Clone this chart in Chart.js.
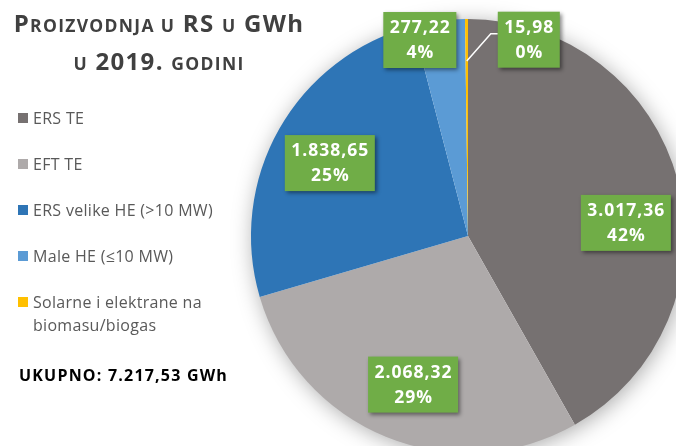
<!DOCTYPE html>
<html>
<head>
<meta charset="utf-8">
<script src="https://cdn.jsdelivr.net/npm/chart.js@4.4.1/dist/chart.umd.min.js"></script>
<style>
  html, body { margin: 0; padding: 0; background: #fff; }
  body { width: 676px; height: 446px; overflow: hidden; position: relative; font-family: 'Open Sans', sans-serif; }
  #title {
    position: absolute; left: 0; top: 5px; width: 318px; text-align: center;
    font-weight: bold; font-size: 24px; line-height: 35px; color: #404040;
    letter-spacing: 1.3px; z-index: 2; white-space: nowrap;
  }
  #title .sc { font-size: 17.5px; }
  #legend { position: absolute; left: 18px; top: 107px; z-index: 2; }
  .item { position: relative; padding-left: 15px; font-size: 16px; letter-spacing: 0.3px; line-height: 23px; color: #595959; margin-bottom: 23px; }
  .item .sw { position: absolute; left: 0; top: 6px; width: 10px; height: 10px; }
  #total { position: absolute; left: 19px; top: 364px; font-size: 16px; letter-spacing: 1.2px; font-weight: bold; color: #000; line-height: 23px; z-index: 2; }
  #wrap { position: absolute; left: 0; top: 0; width: 700px; height: 470px; z-index: 1; }
</style>
</head>
<body>
<div id="title">P<span class="sc">ROIZVODNJA U</span> RS <span class="sc">U</span> GWh<br><span class="sc">U</span> 2019. <span class="sc">GODINI</span></div>
<div id="legend"></div>
<div id="total"></div>
<div id="wrap"><canvas id="chart"></canvas></div>
<script>
// production in RS for 2019, GWh
const categories = ['ERS TE', 'EFT TE', 'ERS velike HE (>10 MW)', 'Male HE (≤10 MW)', 'Solarne i elektrane na biomasu/biogas'];
const legendText = ['ERS TE', 'EFT TE', 'ERS velike HE (>10 MW)', 'Male HE (≤10 MW)', 'Solarne i elektrane na<br>biomasu/biogas'];
const production = [3017.36, 2068.32, 1838.65, 277.22, 15.98];
const sliceColors = ['#767171', '#AEAAAA', '#2E75B6', '#5B9BD5', '#FFC000'];

// where each green label sits: rotation from slice middle (deg) and radius fraction
const labelShift = [10, -1.8, -1.7, -6.1, 17.6];
const labelRadius = [0.73, 0.73, 0.72, 0.93, 0.947];
const labelLeader = [false, false, false, false, true];

const total = production.reduce((a, b) => a + b, 0);

function fmt(v) {
  const parts = v.toFixed(2).split('.');
  return parts[0].replace(/\B(?=(\d{3})+(?!\d))/g, '.') + ',' + parts[1];
}

// legend and total as html
const legend = document.getElementById('legend');
categories.forEach((name, i) => {
  const el = document.createElement('div');
  el.className = 'item';
  el.innerHTML = `<span class="sw" style="background:${sliceColors[i]}"></span>${legendText[i]}`;
  legend.appendChild(el);
});
document.getElementById('total').textContent = `UKUPNO: ${fmt(total)} GWh`;

const pieShadow = {
  id: 'pieShadow',
  beforeDatasetsDraw(chart) {
    const arc = chart.getDatasetMeta(0).data[0];
    if (!arc) return;
    const ctx = chart.ctx;
    ctx.save();
    ctx.shadowColor = 'rgba(0,0,0,0.35)';
    ctx.shadowBlur = 22;
    ctx.shadowOffsetX = 2;
    ctx.shadowOffsetY = 3;
    ctx.fillStyle = '#fff';
    ctx.beginPath();
    ctx.arc(arc.x, arc.y, arc.outerRadius - 1, 0, Math.PI * 2);
    ctx.fill();
    ctx.restore();
  }
};

const boxLabels = {
  id: 'boxLabels',
  afterDatasetsDraw(chart) {
    const ctx = chart.ctx;
    const meta = chart.getDatasetMeta(0);
    meta.data.forEach((arc, i) => {
      const p = arc.getProps(['x', 'y', 'startAngle', 'endAngle', 'outerRadius'], true);
      const mid = (p.startAngle + p.endAngle) / 2;
      const a = mid + labelShift[i] * Math.PI / 180;
      const r = p.outerRadius * labelRadius[i];
      const cx = p.x + Math.cos(a) * r;
      const cy = p.y + Math.sin(a) * r;
      const line1 = fmt(production[i]);
      const line2 = Math.round(production[i] / total * 100) + '%';
      ctx.save();
      ctx.font = 'bold 17.5px "Open Sans"';
      ctx.letterSpacing = '1px';
      const w = Math.max(ctx.measureText(line1).width, ctx.measureText(line2).width) + 12;
      const h = 56;
      const left = cx - w / 2, top = cy - h / 2;
      if (labelLeader[i]) {
        const ar = p.outerRadius * 0.806;
        ctx.strokeStyle = '#fff';
        ctx.lineWidth = 1.5;
        ctx.beginPath();
        ctx.moveTo(p.x + Math.cos(mid) * ar, p.y + Math.sin(mid) * ar);
        ctx.lineTo(left - 7, top + 22);
        ctx.lineTo(left, top + 22);
        ctx.stroke();
      }
      ctx.shadowColor = 'rgba(0,0,0,0.45)';
      ctx.shadowBlur = 4;
      ctx.shadowOffsetX = 2;
      ctx.shadowOffsetY = 2;
      ctx.fillStyle = '#70AD47';
      ctx.fillRect(left, top, w, h);
      ctx.shadowColor = 'transparent';
      ctx.fillStyle = '#fff';
      ctx.textAlign = 'center';
      ctx.textBaseline = 'middle';
      ctx.fillText(line1, cx + 0.5, cy - 12);
      ctx.fillText(line2, cx + 0.5, cy + 13);
      ctx.restore();
    });
  }
};

new Chart(document.getElementById('chart'), {
  type: 'pie',
  data: {
    labels: categories,
    datasets: [{
      data: production,
      backgroundColor: sliceColors,
      borderWidth: 0
    }]
  },
  options: {
    responsive: true,
    maintainAspectRatio: false,
    animation: false,
    layout: { padding: { left: 251, top: 19, right: 15, bottom: 17 } },
    plugins: {
      legend: { display: false },
      tooltip: { enabled: false }
    }
  },
  plugins: [pieShadow, boxLabels]
});
</script>
</body>
</html>
